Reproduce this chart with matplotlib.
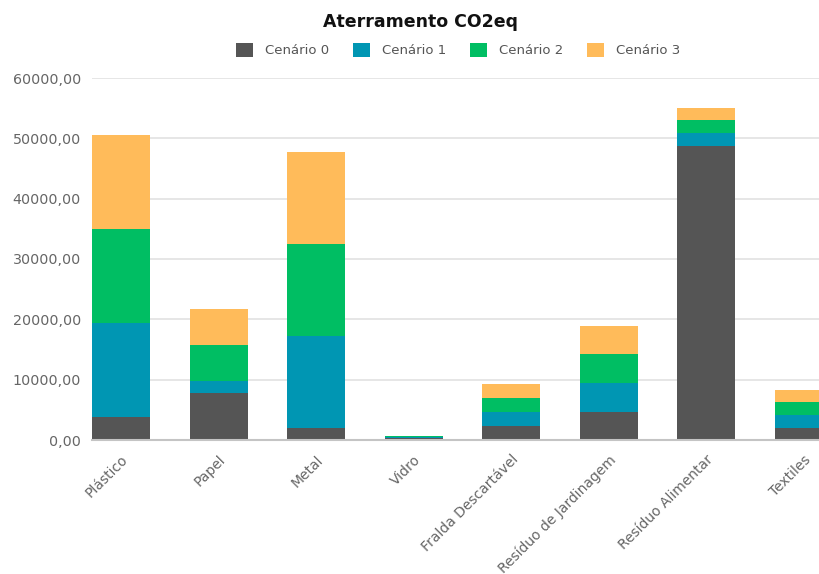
import matplotlib
matplotlib.use('Agg')
import matplotlib.pyplot as plt
from matplotlib.patches import Patch
from matplotlib.ticker import FuncFormatter
import numpy as np

plt.rcParams['font.family'] = ['DejaVu Sans']

# ── dados ─────────────────────────────────────────────
categorias = ['Plástico', 'Papel', 'Metal', 'Vidro', 'Fralda Descartável',
              'Resíduo de Jardinagem', 'Resíduo Alimentar', 'Textiles']
cenario0 = [3860, 7740, 1940, 380, 2320, 4680, 48790, 2020]
cenario1 = [15540, 2040, 15300, 60, 2370, 4740, 2090, 2090]
cenario2 = [15600, 5970, 15250, 150, 2320, 4760, 2100, 2110]
cenario3 = [15550, 5950, 15310, 40, 2320, 4690, 2110, 2100]
series = [cenario0, cenario1, cenario2, cenario3]
nomes = ['Cenário 0', 'Cenário 1', 'Cenário 2', 'Cenário 3']
cores = ['#555555', '#0096B3', '#00BE63', '#FFBB5A']

# ── figura ────────────────────────────────────────────
fig = plt.figure(figsize=(8.19, 5.74), dpi=100)
ax = fig.add_axes([92 / 819, 1 - 440 / 574, (819 - 92) / 819, (440 - 78) / 574])

x = np.arange(len(categorias))
w = 0.595
base = np.zeros(len(categorias))
for vals, cor in zip(series, cores):
    ax.bar(x, vals, w, bottom=base, color=cor, zorder=3, linewidth=0)
    base += np.array(vals)

ax.set_xlim(-w / 2, -w / 2 + 727 / 97.5)
ax.set_ylim(0, 60000)
ax.set_yticks(np.arange(0, 60001, 10000))
ax.yaxis.set_major_formatter(FuncFormatter(lambda v, p: f'{v:.2f}'.replace('.', ',')))
ax.grid(axis='y', color='#e2e2e2', lw=1.2, zorder=0)
ax.set_axisbelow(True)
for s in ['top', 'right', 'left']:
    ax.spines[s].set_visible(False)
ax.spines['bottom'].set_color('#c4c4c4')
ax.spines['bottom'].set_linewidth(1.5)
ax.spines['bottom'].set_zorder(4)
ax.tick_params(axis='both', length=0, colors='#666666', labelsize=10.3)
ax.tick_params(axis='y', pad=8)
ax.set_xticks(x)
ax.set_xticklabels(categorias, rotation=45, ha='right', rotation_mode='anchor',
                   fontsize=10, color='#666666')
ax.tick_params(axis='x', pad=9)

fig.text(421 / 819, 1 - 22 / 574, 'Aterramento CO2eq', ha='center', va='center',
         fontsize=12.5, fontweight='bold', color='#111111')
handles = [Patch(facecolor=c, edgecolor='none') for c in cores]
fig.legend(handles, nomes, loc='center', bbox_to_anchor=(458 / 819, 1 - 50 / 574),
           ncol=4, frameon=False, fontsize=9.5, handlelength=1.29, handleheight=1.29,
           handletextpad=0.9, columnspacing=1.8, labelcolor='#555555')

plt.savefig('out.png', dpi=100, facecolor='white')
